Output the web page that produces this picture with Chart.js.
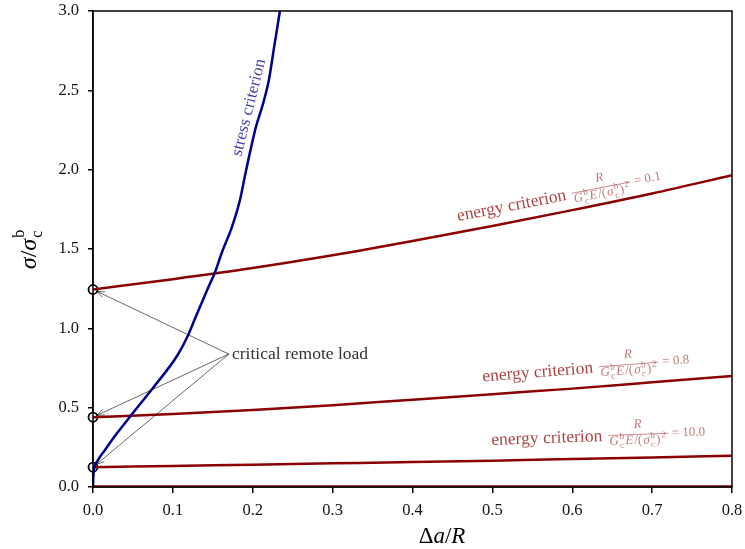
<!DOCTYPE html>
<html><head><meta charset="utf-8">
<script src="https://cdn.jsdelivr.net/npm/chart.js@4/dist/chart.umd.min.js"></script>
<style>html,body{margin:0;padding:0;background:#fff}canvas{display:block}</style>
</head><body>
<canvas id="c" width="745" height="549"></canvas>
<script>
// ---- data ----
const energyX   = [0, 0.1, 0.2, 0.3, 0.4, 0.5, 0.6, 0.7, 0.8];
const energy01  = [1.245, 1.31, 1.38, 1.46, 1.55, 1.645, 1.745, 1.85, 1.965];
const energy08  = [0.44, 0.46, 0.485, 0.515, 0.55, 0.585, 0.62, 0.66, 0.70];
const energy10  = [0.125, 0.133, 0.141, 0.149, 0.157, 0.166, 0.176, 0.186, 0.197];
const energyBase = [0.005, 0.005, 0.005, 0.005, 0.005, 0.005, 0.005, 0.005, 0.005];
const stressX   = [0, 0.0004, 0.0015, 0.005, 0.015, 0.030, 0.050, 0.075, 0.106, 0.118, 0.128, 0.144, 0.153, 0.161, 0.174, 0.184, 0.190, 0.197, 0.204, 0.212, 0.220, 0.227, 0.234];
const stressY   = [0, 0.06, 0.12, 0.16, 0.233, 0.338, 0.466, 0.624, 0.832, 0.945, 1.065, 1.254, 1.357, 1.473, 1.64, 1.809, 1.955, 2.12, 2.27, 2.40, 2.56, 2.78, 3.0];
const criticalX = [0, 0, 0];
const criticalY = [1.245, 0.44, 0.125];
const xTicks = [0, 0.1, 0.2, 0.3, 0.4, 0.5, 0.6, 0.7, 0.8];
const yTicks = [0, 0.5, 1.0, 1.5, 2.0, 2.5, 3.0];
const energyParams = ['0.1', '0.8', '10.0'];

const pts = (xs, ys) => xs.map((x, i) => ({x, y: ys[i]}));
const SERIF = '"Liberation Serif", "DejaVu Serif", serif';
const RED = '#8b0000', BLUE = '#00008b';
const LBL_RED = 'rgba(139,0,0,0.75)', FRAC_RED = 'rgba(139,0,0,0.55)';

function mathRun(ctx, toks, x, y, size, draw) {
  let cx = x;
  for (const t of toks) {
    const [s, mode, sup] = t;
    if (mode === 'sub') {
      ctx.font = `${size*0.7}px ${SERIF}`;
      const w1 = ctx.measureText(s).width, w2 = ctx.measureText(sup).width;
      if (draw) { ctx.fillText(s, cx, y + size*0.28); ctx.fillText(sup, cx, y - size*0.42); }
      cx += Math.max(w1, w2) + 1;
    } else if (mode === 'sup') {
      ctx.font = `${size*0.7}px ${SERIF}`;
      if (draw) ctx.fillText(s, cx, y - size*0.42);
      cx += ctx.measureText(s).width + 1;
    } else {
      ctx.font = (mode === 'i' ? 'italic ' : '') + `${size}px ${SERIF}`;
      if (draw) ctx.fillText(s, cx, y);
      cx += ctx.measureText(s).width + 1;
    }
  }
  return cx - x;
}
const DEN = [['G','i'],['c','sub','b'],['E','i'],['/(','n'],['σ','i'],['c','sub','b'],[')','n'],['2','sup']];

function energyLabel(ctx, px, py, ang, val) {
  ctx.save();
  ctx.translate(px, py); ctx.rotate(ang*Math.PI/180);
  ctx.textBaseline = 'alphabetic'; ctx.textAlign = 'left';
  ctx.fillStyle = LBL_RED; ctx.font = `17.5px ${SERIF}`;
  ctx.fillText('energy criterion', 0, 0);
  const x0 = ctx.measureText('energy criterion').width + 6;
  ctx.fillStyle = FRAC_RED;
  const dw = mathRun(ctx, DEN, 0, 0, 13, false);
  mathRun(ctx, DEN, x0 + 1, 4, 13, true);
  ctx.font = `italic 13px ${SERIF}`;
  const nw = ctx.measureText('R').width;
  ctx.fillText('R', x0 + 1 + (dw - nw)/2, -12);
  ctx.strokeStyle = FRAC_RED; ctx.lineWidth = 0.8;
  ctx.beginPath(); ctx.moveTo(x0, -5.5); ctx.lineTo(x0 + dw + 2, -5.5); ctx.stroke();
  ctx.font = `13px ${SERIF}`;
  ctx.fillText('= ' + val, x0 + dw + 6, -2);
  ctx.restore();
}

function arrow(ctx, x1, y1, x2, y2) {
  ctx.beginPath(); ctx.moveTo(x1, y1); ctx.lineTo(x2, y2); ctx.stroke();
  const a = Math.atan2(y2 - y1, x2 - x1), L = 8, h = 0.38;
  ctx.beginPath();
  ctx.moveTo(x2 - L*Math.cos(a - h), y2 - L*Math.sin(a - h));
  ctx.lineTo(x2, y2);
  ctx.lineTo(x2 - L*Math.cos(a + h), y2 - L*Math.sin(a + h));
  ctx.stroke();
}

const annot = {
  id: 'annot',
  afterDatasetsDraw(chart) {
    const ctx = chart.ctx, xs = chart.scales.x, ys = chart.scales.y, ca = chart.chartArea;
    const X = v => xs.getPixelForValue(v), Y = v => ys.getPixelForValue(v);
    ctx.save();
    ctx.strokeStyle = '#000'; ctx.lineWidth = 1.5;
    ctx.strokeRect(ca.left, ca.top, ca.right - ca.left, ca.bottom - ca.top);
    energyLabel(ctx, X(0.457), Y(1.676), -11, energyParams[0]);
    energyLabel(ctx, X(0.488), Y(0.665), -4.5, energyParams[1]);
    energyLabel(ctx, X(0.499), Y(0.265), -2, energyParams[2]);
    ctx.save();
    ctx.translate(X(0.1855), Y(2.08)); ctx.rotate(-76*Math.PI/180);
    ctx.fillStyle = 'rgba(0,0,139,0.75)'; ctx.font = `17px ${SERIF}`;
    ctx.fillText('stress criterion', 0, 0);
    ctx.restore();
    ctx.fillStyle = '#333'; ctx.font = `17.5px ${SERIF}`;
    ctx.fillText('critical remote load', X(0.174), Y(0.805));
    ctx.strokeStyle = '#000'; ctx.lineWidth = 0.6;
    const sx = X(0.170), sy = Y(0.838);
    criticalY.forEach((v, i) => {
      const tx = X(criticalX[i]), ty = Y(v);
      const a = Math.atan2(ty - sy, tx - sx);
      arrow(ctx, sx, sy, tx - 4.5*Math.cos(a), ty - 4.5*Math.sin(a));
    });
    ctx.restore();
  },
  afterDraw(chart) {
    const ctx = chart.ctx, ca = chart.chartArea;
    ctx.save();
    ctx.fillStyle = '#000'; ctx.textBaseline = 'alphabetic';
    const parts = [['Δ',''],['a','italic '],['/',''],['R','italic ']];
    let w = 0; parts.forEach(p => { ctx.font = `${p[1]}23px ${SERIF}`; w += ctx.measureText(p[0]).width; });
    let x = 442 - w/2;
    parts.forEach(p => { ctx.font = `${p[1]}23px ${SERIF}`; ctx.fillText(p[0], x, 543); x += ctx.measureText(p[0]).width; });
    ctx.translate(36, (ca.top + ca.bottom)/2); ctx.rotate(-Math.PI/2);
    ctx.font = `italic 24px ${SERIF}`; const ws = ctx.measureText('σ').width;
    ctx.font = `24px ${SERIF}`; const wsl = ctx.measureText('/').width;
    ctx.font = `16px ${SERIF}`; const wb = ctx.measureText('b').width;
    const tot = ws*2 + wsl + wb + 2;
    x = -tot/2;
    ctx.font = `italic 24px ${SERIF}`; ctx.fillText('σ', x, 0); x += ws;
    ctx.font = `24px ${SERIF}`; ctx.fillText('/', x, 0); x += wsl;
    ctx.font = `italic 24px ${SERIF}`; ctx.fillText('σ', x, 0); x += ws + 1;
    ctx.font = `16px ${SERIF}`; ctx.fillText('b', x, -12); ctx.fillText('c', x, 6);
    ctx.restore();
  }
};

const tickFont = {family: SERIF, size: 16.5};
new Chart(document.getElementById('c'), {
  type: 'scatter',
  data: {
    datasets: [
      {data: pts(energyX, energyBase), showLine: true, borderColor: RED, borderWidth: 2, pointRadius: 0, clip: false},
      {data: pts(stressX, stressY), showLine: true, borderColor: BLUE, borderWidth: 2.5, pointRadius: 0, cubicInterpolationMode: 'monotone'},
      {data: pts(energyX, energy01), showLine: true, borderColor: RED, borderWidth: 2.5, pointRadius: 0, cubicInterpolationMode: 'monotone'},
      {data: pts(energyX, energy08), showLine: true, borderColor: RED, borderWidth: 2.5, pointRadius: 0, cubicInterpolationMode: 'monotone'},
      {data: pts(energyX, energy10), showLine: true, borderColor: RED, borderWidth: 2.5, pointRadius: 0, cubicInterpolationMode: 'monotone'},
      {data: pts(criticalX, criticalY), showLine: false, pointRadius: 4.5, pointBackgroundColor: '#fff', pointBorderColor: '#000', pointBorderWidth: 1.8, clip: false}
    ]
  },
  options: {
    responsive: false, animation: false,
    layout: {padding: {left: 0, right: 13, top: 11, bottom: 0}},
    plugins: {legend: {display: false}, tooltip: {enabled: false}},
    scales: {
      x: {
        type: 'linear', min: 0, max: 0.8,
        afterBuildTicks: s => { s.ticks = xTicks.map(v => ({value: v})); },
        afterFit: s => { s.height = 62; s.paddingLeft = 0; s.paddingRight = 0; },
        ticks: {callback: v => Number(v).toFixed(1), font: tickFont, color: '#111', padding: 8, maxRotation: 0, autoSkip: false},
        grid: {display: true, drawOnChartArea: false, drawTicks: true, tickLength: 6, color: '#000', lineWidth: 1.5},
        border: {display: true, color: '#000', width: 1.5}
      },
      y: {
        type: 'linear', min: 0, max: 3,
        afterBuildTicks: s => { s.ticks = yTicks.map(v => ({value: v})); },
        afterFit: s => { s.width = 93; s.paddingTop = 0; s.paddingBottom = 0; },
        ticks: {callback: v => Number(v).toFixed(1), font: tickFont, color: '#111', padding: 9, autoSkip: false},
        grid: {display: true, drawOnChartArea: false, drawTicks: true, tickLength: 5, color: '#000', lineWidth: 1.5},
        border: {display: true, color: '#000', width: 1.5}
      }
    }
  },
  plugins: [annot]
});
</script>
</body></html>
